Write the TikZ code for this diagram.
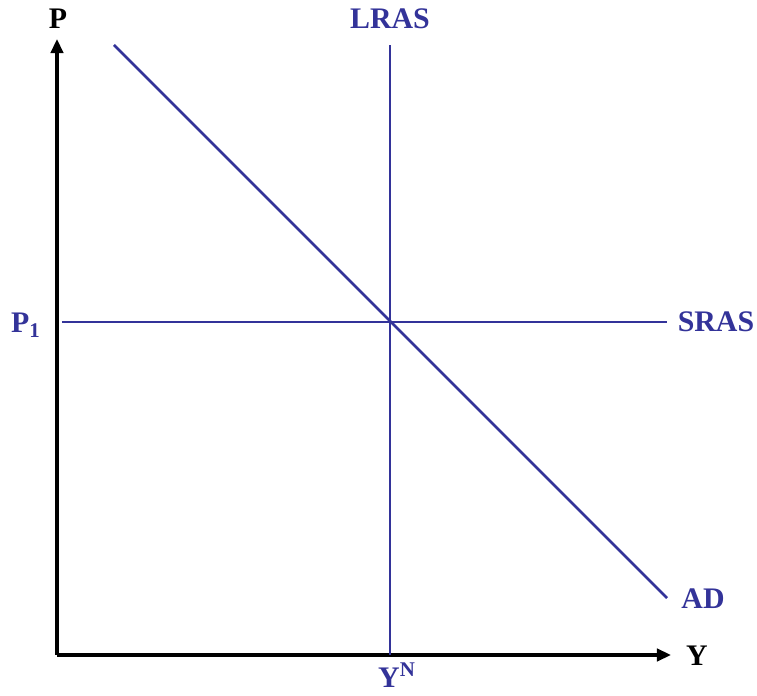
\documentclass[tikz,border=0pt]{standalone}
\usepackage{fontspec}
\setmainfont{Liberation Serif}
\usetikzlibrary{arrows.meta,positioning}
\definecolor{curveblue}{RGB}{51,51,153}

\begin{document}
\begin{tikzpicture}[
            x=0.02cm, y=0.02cm,
            axisline/.style={
                draw, line width=2.2pt,
                -{Triangle[length=8pt, width=7pt]}
            },
            curve/.style={
                draw=curveblue, line width=1.6pt
            },
            lbl/.style={
                font=\fontsize{17}{20}\selectfont\bfseries,
                inner sep=0pt
            }
        ]
        \useasboundingbox (-57,-41) rectangle (700,655);
        % axes
        \coordinate (origin) at (0,0);
        \coordinate (ptop) at (0,616);
        \coordinate (yend) at (614,0);
        \path[axisline] (origin) -- (ptop);
        \path[axisline] (origin) -- (yend);
        \node[lbl] (plabel) at (1,636) {P};
        \node[lbl] (ylabel) at (640,-1) {Y};
        % curves
        \coordinate (lrastop) at (333,610);
        \coordinate (lrasbot) at (333,0);
        \coordinate (srasleft) at (5,333);
        \coordinate (srasright) at (610,333);
        \coordinate (adtop) at (57,610);
        \coordinate (adbot) at (610,57);
        \path[curve] (lrasbot) -- (lrastop);
        \path[curve] (srasleft) -- (srasright);
        \path[curve] (adtop) -- (adbot);
        \node[lbl, text=curveblue] (lras) at (333,636) {LRAS};
        \node[lbl, text=curveblue] (sras) at (659,333) {SRAS};
        \node[lbl, text=curveblue] (ad) at (646,56) {AD};
        \node[lbl, text=curveblue] (p1) at (-31,330) {P\textsubscript{1}};
        \node[lbl, text=curveblue] (yn) at (340,-20) {Y\textsuperscript{N}};
        \end{tikzpicture}
\end{document}
